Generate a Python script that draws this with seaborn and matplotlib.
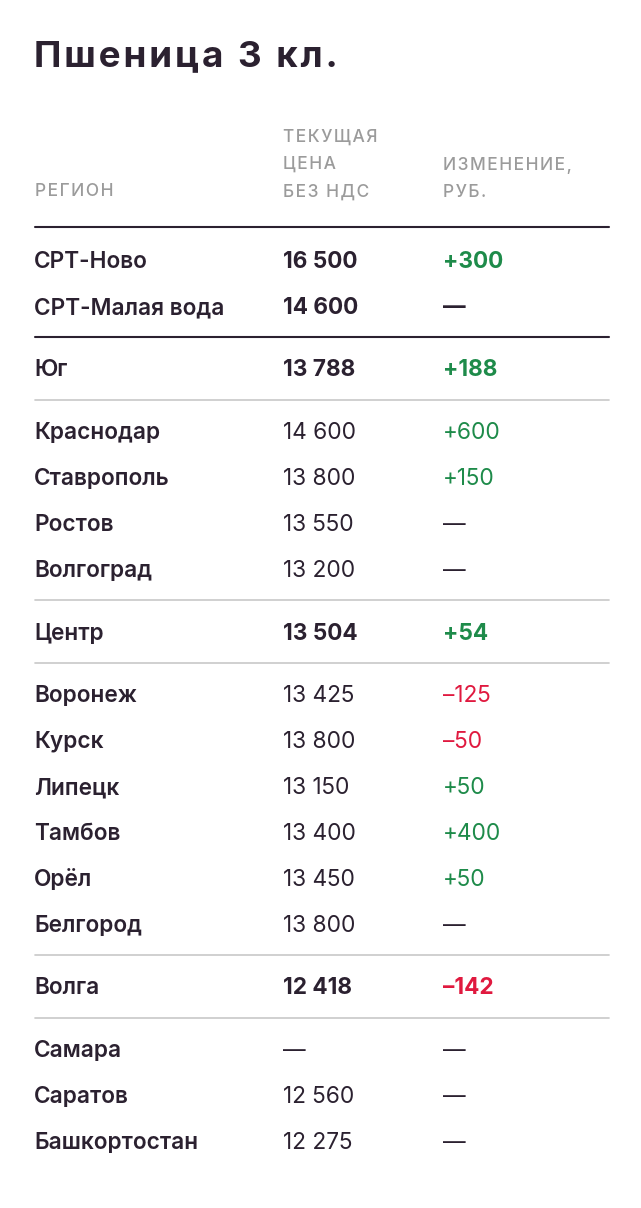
import matplotlib.pyplot as plt
import seaborn as sns

TITLE = "Пшеница 3 кл."
regions = ["СРТ-Ново", "СРТ-Малая вода", "Юг", "Краснодар", "Ставрополь", "Ростов",
           "Волгоград", "Центр", "Воронеж", "Курск", "Липецк", "Тамбов", "Орёл",
           "Белгород", "Волга", "Самара", "Саратов", "Башкортостан"]
prices = ["16 500", "14 600", "13 788", "14 600", "13 800", "13 550", "13 200", "13 504",
          "13 425", "13 800", "13 150", "13 400", "13 450", "13 800", "12 418", "—",
          "12 560", "12 275"]
changes = ["+300", "—", "+188", "+600", "+150", "—", "—", "+54", "–125", "–50", "+50",
           "+400", "+50", "—", "–142", "—", "—", "—"]
bold_rows = [True, True, True, False, False, False, False, True, False, False, False,
             False, False, False, True, False, False, False]
groups = [0, 0, 1, 2, 2, 2, 2, 3, 4, 4, 4, 4, 4, 4, 5, 6, 6, 6]

DARK = "#2b2130"
GREY = "#9b9b9b"
GREEN = "#1e8b4a"
RED = "#e0193f"
FONT = "Inter"


def spaced(s):
    return "\u200a".join(s)


sns.set_theme(style="white")
fig = plt.figure(figsize=(6.41, 12.08), dpi=100)
ax = fig.add_axes([0, 0, 1, 1])
ax.set_xlim(0, 641)
ax.set_ylim(1208, 0)
ax.axis("off")

ax.text(34, 57, spaced(TITLE), fontsize=26.5, fontweight="bold", color=DARK, va="center", family=FONT)

hdr = dict(fontsize=12.5, color=GREY, va="center", family=FONT, fontweight="medium")
ax.text(35, 192, spaced("РЕГИОН"), **hdr)
for i, s in enumerate(["ТЕКУЩАЯ", "ЦЕНА", "БЕЗ НДС"]):
    ax.text(283, 137 + 27.5 * i, spaced(s), **hdr)
for i, s in enumerate(["ИЗМЕНЕНИЕ,", "РУБ."]):
    ax.text(443, 165 + 27.5 * i, spaced(s), **hdr)

ax.plot([35, 609], [227, 227], color=DARK, lw=1.5)

y = 262
for i, (reg, pr, ch) in enumerate(zip(regions, prices, changes)):
    if i > 0:
        if groups[i] != groups[i - 1]:
            line_y = y + 29
            major = groups[i - 1] == 0
            ax.plot([35, 609], [line_y, line_y], color=DARK if major else "#c8c8c8",
                    lw=1.5 if major else 1.2)
            y = line_y + 33.5
        else:
            y += 46
    w = "bold" if bold_rows[i] else "normal"
    col = GREEN if ch.startswith("+") else RED if ch.startswith("–") else DARK
    ax.text(34, y, reg, fontsize=16.3, fontweight="semibold", color=DARK, va="center", family=FONT)
    ax.text(283, y, pr, fontsize=16.3, fontweight=w, color=DARK, va="center", family=FONT)
    ax.text(443, y, ch, fontsize=16.3, fontweight=w, color=col, va="center", family=FONT)

fig.savefig("out.png", dpi=100, facecolor="white")
